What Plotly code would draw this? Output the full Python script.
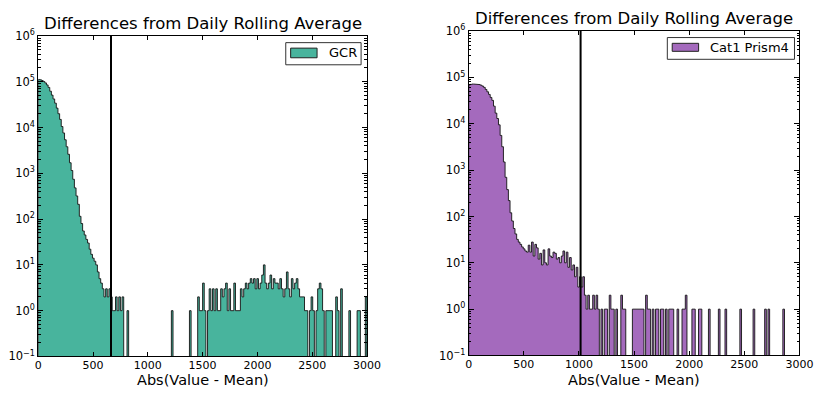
import plotly.graph_objects as go

W, H = 831, 401
BIN_WIDTH = 15
N_BINS = 200

# Histogram counts (15-unit bins from 0 to 3000)
gcr_core_counts = [
    112000, 110000, 106000, 101000, 94000, 85000, 75000, 62000, 51000, 42000,
    34000, 26500, 20000, 15000, 10500, 7600, 5400, 3800, 2600, 1700,
    1150, 740, 480, 320, 210, 115, 80, 55, 45, 36,
    30, 22, 17, 14, 12, 10, 7, 5, 4, 3,
    2, 3, 2, 3, 2, 1, 1, 2, 1, 2,
    1, 2, 0, 0, 1,
]
gcr_tail_bins = [
    81, 92, 97, 98, 99, 100, 101, 103, 104, 105, 106, 107, 108, 109, 110,
    111, 112, 113, 114, 115, 116, 117, 118, 119, 120, 121, 122, 123, 124, 125,
    126, 127, 128, 129, 130, 131, 132, 133, 134, 135, 136, 137, 138, 139, 140,
    141, 142, 143, 144, 145, 146, 147, 148, 149, 150, 151, 152, 153, 154, 155,
    156, 157, 158, 159, 160, 161, 162, 163, 165, 166, 167, 169, 170, 171, 172,
    173, 175, 176, 177, 178, 181, 182, 184, 189, 194, 195, 199,
]
gcr_tail_counts = [
    1, 1, 2, 1, 1, 4, 1, 1, 3, 1, 3, 1, 3, 1, 1,
    3, 2, 3, 4, 1, 3, 1, 1, 4, 1, 1, 1, 3, 2, 3,
    4, 3, 4, 5, 4, 5, 3, 5, 3, 4, 6, 10, 4, 3, 4,
    6, 3, 5, 4, 4, 3, 5, 3, 2, 3, 7, 3, 2, 5, 3,
    4, 5, 3, 2, 2, 2, 1, 1, 1, 2, 1, 1, 3, 4, 3,
    1, 1, 1, 1, 1, 2, 1, 3, 1, 1, 1, 2,
]
gcr_threshold = 664

prism_core_counts = [
    69000, 71000, 72000, 72000, 72000, 71000, 70000, 68000, 65000, 61000,
    55000, 49000, 43000, 37000, 32000, 24000, 17000, 13000, 9500, 5600,
    3200, 1500, 700, 380, 220, 120, 80, 55, 42, 32,
    28, 25, 22, 20, 18, 17, 24, 17, 28, 14,
    25, 21, 12, 16, 9, 19, 10, 9, 20, 14,
    13, 17, 16, 12, 13, 10, 14, 18, 10, 17,
    8, 13, 7, 9, 5, 8, 3, 5, 3, 5,
    2, 1, 2, 1, 1, 2, 1, 2, 1, 0,
    1, 0, 1, 1,
]
prism_tail_bins = [
    85, 86, 87, 89, 92, 93, 94, 99, 100, 101, 102, 103, 104, 105, 107,
    108, 109, 111, 113, 114, 116, 117, 119, 121, 122, 123, 126, 129, 130, 131,
    135, 136, 139, 140, 145, 151, 155, 164, 172, 179, 181, 190,
]
prism_tail_counts = [
    2, 1, 1, 1, 2, 1, 1, 1, 1, 1, 1, 1, 1, 1, 2,
    1, 1, 1, 1, 1, 1, 1, 1, 1, 1, 1, 1, 1, 1, 2,
    1, 1, 1, 1, 1, 1, 1, 1, 1, 1, 1, 1,
]
prism_threshold = 1015

x_tick_values = [0, 500, 1000, 1500, 2000, 2500, 3000]
y_tick_exponents = [-1, 0, 1, 2, 3, 4, 5, 6]

TITLE = "Differences from Daily Rolling Average"
XLABEL = "Abs(Value - Mean)"
FONT = "DejaVu Sans"

GCR_COLOR = "#48b49d"
PRISM_COLOR = "#a46abd"


def full_counts(core, tail_bins, tail_counts):
    counts = [0] * N_BINS
    for i, c in enumerate(core):
        counts[i] = c
    for b, c in zip(tail_bins, tail_counts):
        counts[b] = c
    return counts


def step_outline(counts, floor=1e-3):
    """Closed step polygon of a histogram (stepfilled style)."""
    xs, ys = [0], [floor]
    for i, c in enumerate(counts):
        v = c if c > 0 else floor
        xs += [i * BIN_WIDTH, (i + 1) * BIN_WIDTH]
        ys += [v, v]
    xs.append(N_BINS * BIN_WIDTH)
    ys.append(floor)
    return xs, ys


def px_x(p):
    return p / W


def px_y(p):
    return 1 - p / H


# Axes boxes in pixels: (left, top, right, bottom), title centre y
boxes = [(35, 29, 371, 362, 16), (475, 24, 813, 361, 10.5)]

fig = go.Figure()

series = [
    (gcr_core_counts, gcr_tail_bins, gcr_tail_counts, GCR_COLOR, "GCR", gcr_threshold),
    (prism_core_counts, prism_tail_bins, prism_tail_counts, PRISM_COLOR, "Cat1 Prism4", prism_threshold),
]

minor_vals = [m * 10 ** e for e in range(-1, 6) for m in range(2, 10)]
tick_text = [f"10<sup>{'−' + str(-e) if e < 0 else e}</sup>" for e in y_tick_exponents]

for k, (core, tb, tc, color, name, thr) in enumerate(series):
    sfx = "" if k == 0 else str(k + 1)
    counts = full_counts(core, tb, tc)
    xs, ys = step_outline(counts)
    fig.add_trace(go.Scatter(
        x=xs, y=ys, mode="lines", fill="toself", fillcolor=color,
        line=dict(color="rgba(20,20,20,0.9)", width=1),
        xaxis="x" + sfx, yaxis="y" + sfx, showlegend=False, hoverinfo="skip",
    ))
    l, t, r, b, ty = boxes[k]
    axis_common = dict(
        showline=True, linecolor="black", linewidth=1, mirror="allticks",
        ticks="inside", tickcolor="black", showgrid=False, zeroline=False,
    )
    fig.update_layout(**{
        "xaxis" + sfx: dict(
            domain=[px_x(l), px_x(r)], range=[0, 3000], anchor="y" + sfx,
            tickmode="array", tickvals=x_tick_values,
            ticktext=[str(v) for v in x_tick_values], ticklen=4,
            tickfont=dict(family=FONT, size=11, color="black"),
            ticklabelstandoff=-2,
            **axis_common,
        ),
        "yaxis" + sfx: dict(
            domain=[px_y(b), px_y(t)], type="log", range=[-1, 6], anchor="x" + sfx,
            tickmode="array", tickvals=[10.0 ** e for e in y_tick_exponents],
            ticktext=tick_text, ticklen=5,
            tickfont=dict(family=FONT, size=11.5, color="black"),
            minor=dict(tickmode="array", tickvals=minor_vals, ticks="inside",
                       ticklen=2.5, tickcolor="black"),
            **axis_common,
        ),
    })
    # threshold line
    fig.add_shape(type="line", xref="x" + sfx, yref="y" + sfx + " domain",
                  x0=thr, x1=thr, y0=0, y1=1, line=dict(color="black", width=2))
    # titles
    cx = (l + r) / 2
    fig.add_annotation(text=TITLE, xref="paper", yref="paper", x=px_x(cx),
                       y=px_y(ty), xanchor="center", yanchor="middle",
                       showarrow=False, font=dict(family=FONT, size=16.5, color="black"))
    fig.add_annotation(text=XLABEL, xref="paper", yref="paper", x=px_x(cx),
                       y=px_y(386), xanchor="center", yanchor="middle",
                       showarrow=False, font=dict(family=FONT, size=14.5, color="black"))

# legends drawn as boxes with swatches
legend_boxes = [
    ((288, 36, 365, 59), (293, 41.7, 320, 51.7), 330),
    ((678, 30.7, 808, 53.3), (683, 36.7, 710, 45), 720),
]
for (box, sw, tx), (_, _, _, color, name, _) in zip(legend_boxes, series):
    fig.add_shape(type="rect", xref="paper", yref="paper",
                  x0=px_x(box[0]), x1=px_x(box[2]), y0=px_y(box[3]), y1=px_y(box[1]),
                  line=dict(color="#333333", width=1), fillcolor="white")
    fig.add_shape(type="rect", xref="paper", yref="paper",
                  x0=px_x(sw[0]), x1=px_x(sw[2]), y0=px_y(sw[3]), y1=px_y(sw[1]),
                  line=dict(color="#222222", width=1), fillcolor=color)
    fig.add_annotation(text=name, xref="paper", yref="paper", x=px_x(tx),
                       y=px_y((sw[1] + sw[3]) / 2), xanchor="left", yanchor="middle",
                       showarrow=False, font=dict(family=FONT, size=13, color="black"))

fig.update_layout(
    width=W, height=H, autosize=False,
    margin=dict(l=0, r=0, t=0, b=0),
    paper_bgcolor="white", plot_bgcolor="white",
    font=dict(family=FONT, color="black"),
    showlegend=False,
)

fig.write_html("out.html")
